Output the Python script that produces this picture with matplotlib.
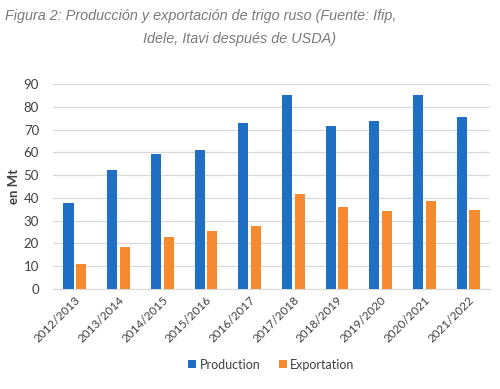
import matplotlib.pyplot as plt
import numpy as np

plt.rcParams['font.family'] = ['Lato', 'DejaVu Sans']

seasons = ['2012/2013', '2013/2014', '2014/2015', '2015/2016', '2016/2017',
           '2017/2018', '2018/2019', '2019/2020', '2020/2021', '2021/2022']
production = [37.8, 52.2, 59.1, 61.1, 72.7, 85.3, 71.5, 73.6, 85.3, 75.6]
exportation = [11.1, 18.5, 22.9, 25.3, 27.8, 41.6, 35.8, 34.4, 38.8, 34.9]
yticks = list(range(0, 91, 10))

blue = '#1F6FC4'
orange = '#F58A30'
text_col = '#404040'

fig = plt.figure(figsize=(5, 3.89), dpi=100)
ax = fig.add_axes([0.106, 0.257, 0.874, 0.527])

x = np.arange(len(seasons))
w = 0.23
ax.bar(x - 0.145, production, w, color=blue, label='Production', zorder=3)
ax.bar(x + 0.145, exportation, w, color=orange, label='Exportation', zorder=3)

ax.set_xlim(-0.5, len(seasons) - 0.5)
ax.set_ylim(0, 90)
ax.set_yticks(yticks)
ax.yaxis.grid(True, color='#d9d9d9', linewidth=0.9, zorder=0)
for s in ['top', 'right', 'left']:
    ax.spines[s].set_visible(False)
ax.spines['bottom'].set_color('#d9d9d9')
ax.tick_params(axis='both', length=0, colors=text_col, labelsize=9.5)
ax.tick_params(axis='y', pad=10)
ax.tick_params(axis='x', labelsize=8.5, pad=4)
ax.set_xticks(x)
ax.set_xticklabels(seasons, rotation=45, ha='right', rotation_mode='anchor')
ax.set_ylabel('en Mt', fontsize=9.5, fontweight='bold', color=text_col, labelpad=3)

ax.legend(loc='upper center', bbox_to_anchor=(0.5, -0.285), ncol=2, frameon=False,
          fontsize=9, handlelength=0.6, handleheight=0.6, handletextpad=0.3,
          columnspacing=1.5, labelcolor=text_col)

fig.text(0.01, 0.96, 'Figura 2: Producción y exportación de trigo ruso (Fuente: Ifip,',
         fontsize=10.4, style='italic', color='#7a7a7a', family='Liberation Sans', va='center')
fig.text(0.286, 0.90, 'Idele, Itavi después de USDA)',
         fontsize=10.4, style='italic', color='#7a7a7a', family='Liberation Sans', va='center')

fig.savefig('out.png', dpi=100)
